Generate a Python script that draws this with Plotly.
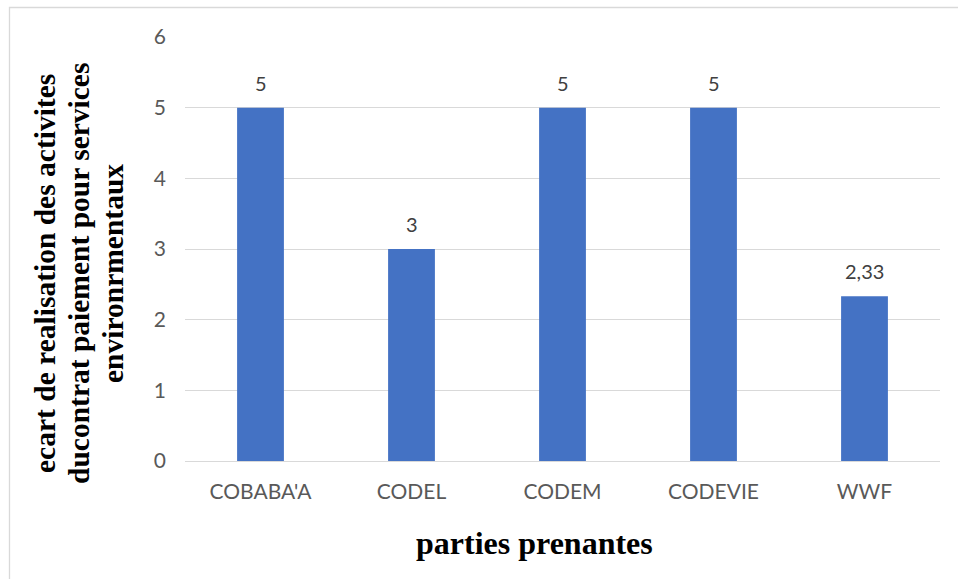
import plotly.graph_objects as go

# Data
parties = ["COBABA'A", "CODEL", "CODEM", "CODEVIE", "WWF"]
ecart = [5, 3, 5, 5, 2.33]
y_ticks = [0, 1, 2, 3, 4, 5, 6]
y_title_lines = [
    "ecart de realisation des activites",
    "ducontrat paiement pour services",
    "environrmentaux",
]

bar_color = "#4472C4"
grid_color = "#D9D9D9"
sans = "Lato, Open Sans, sans-serif"
serif = "Liberation Serif, Times New Roman, serif"
tick_font = dict(family=sans, size=21, color="#595959")

W, H = 958, 579
ml, mr, mt, mb = 185, 18, 37, 118
pw, ph = W - ml - mr, H - mt - mb


def px_x(p):
    return (p - ml) / pw


def px_y(p):
    return 1 - (p - mt) / ph


fig = go.Figure()
fig.add_trace(go.Bar(
    x=parties,
    y=ecart,
    marker=dict(color=bar_color, line=dict(width=0)),
    width=0.31,
    hoverinfo="x+y",
))

# value labels above the bars (French decimal comma)
for cat, val in zip(parties, ecart):
    label = f"{val:g}".replace(".", ",")
    fig.add_annotation(
        x=cat, y=val, text=label, showarrow=False,
        yshift=25, font=dict(family=sans, size=20, color="#404040"),
    )

# y-axis title, one rotated line at a time for tight line spacing
for line, cx in zip(y_title_lines, [45, 79, 113]):
    fig.add_annotation(
        xref="paper", yref="paper", x=px_x(cx), y=px_y(274),
        xanchor="center", yanchor="middle",
        text=f"<b>{line}</b>", textangle=-90, showarrow=False,
        font=dict(family=serif, size=29.5, color="#000000"),
    )

fig.add_annotation(
    xref="paper", yref="paper", x=px_x(534), y=px_y(543),
    xanchor="center", yanchor="middle",
    text="<b>parties prenantes</b>", showarrow=False,
    font=dict(family=serif, size=32, color="#000000"),
)

# outer chart border (top and left edges visible)
fig.add_shape(
    type="rect", xref="paper", yref="paper",
    x0=px_x(9.5), y0=px_y(600), x1=px_x(1000), y1=px_y(7.5),
    line=dict(color="#D9D9D9", width=1.3), fillcolor="rgba(0,0,0,0)", layer="below",
)

fig.update_layout(
    width=W, height=H,
    margin=dict(l=ml, r=mr, t=mt, b=mb),
    paper_bgcolor="white", plot_bgcolor="white",
    showlegend=False,
    bargap=0.69,
)
fig.update_xaxes(
    tickfont=tick_font, showgrid=False, showline=True,
    linecolor=grid_color, linewidth=1.3, ticks="", ticklabelstandoff=12,
)
fig.update_yaxes(
    range=[0, 6], tickvals=y_ticks, tickfont=tick_font,
    showgrid=True, gridcolor=grid_color, gridwidth=1.3,
    zeroline=False, showline=False, ticks="", ticklabelstandoff=18,
)

fig.write_html("out.html")
